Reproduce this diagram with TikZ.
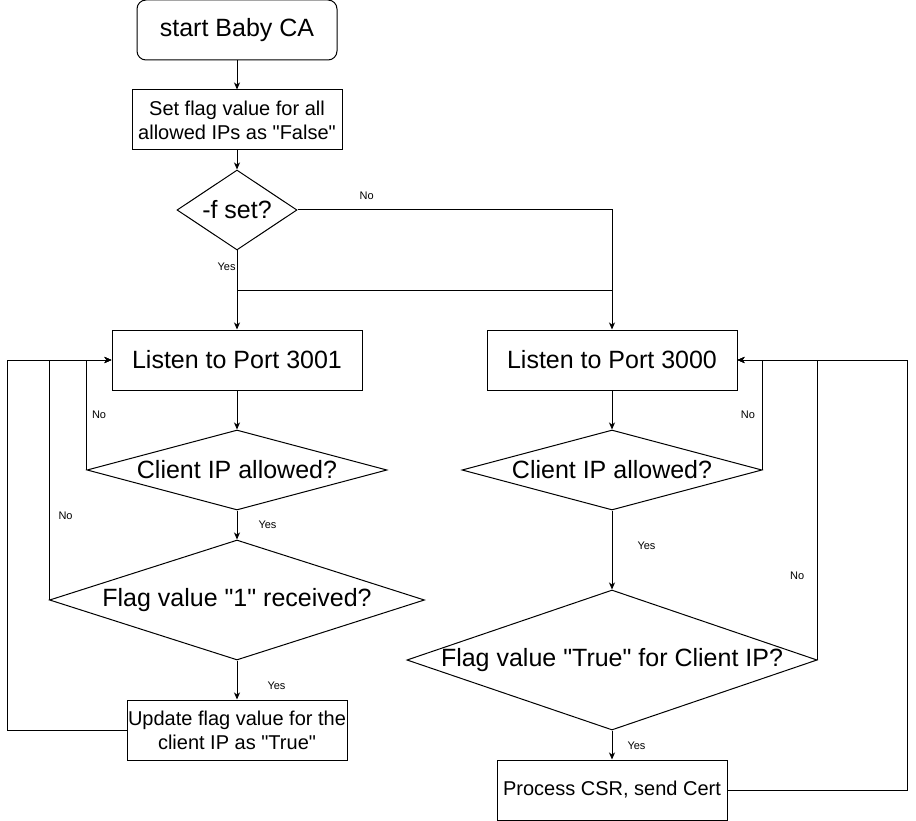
\documentclass[tikz,border=0pt]{standalone}
\usepackage{fontspec}
\setmainfont{Liberation Sans}[Ligatures=TeXOff]
\usetikzlibrary{positioning, shapes.geometric, arrows.meta}

\begin{document}
\begin{tikzpicture}[
        x=1pt, y=-1pt, line width=1pt,
        box/.style={draw, rectangle, inner sep=0pt, minimum height=60pt, align=center, font=\fontsize{20}{24}\selectfont},
        bigbox/.style={box, font=\fontsize{25}{30}\selectfont},
        decision/.style={draw, diamond, inner sep=0pt, font=\fontsize{25}{30}\selectfont},
        edge/.style={draw, -{Stealth[length=7pt, width=6pt, inset=2pt]}},
        line/.style={draw},
        lbl/.style={font=\fontsize{11}{13}\selectfont, inner sep=0pt}
    ]
        \useasboundingbox (0,0) rectangle (916,821);

        % Start
        \node[bigbox, rounded corners=9pt, minimum width=200pt] (start) at (237,30) {start Baby CA};
        \node[box, minimum width=210pt] (init) at (237,120) {Set flag value for all\\allowed IPs as "False"};
        \node[decision, minimum width=120pt, minimum height=80pt, aspect=1.5] (fset) at (237,210) {-f set?};

        % Port 3001
        \node[bigbox, minimum width=250pt] (l1) at (237,360) {Listen to Port 3001};
        \node[decision, minimum width=300pt, minimum height=80pt, aspect=3.75] (ip1) at (237,470) {Client IP allowed?};
        \node[decision, minimum width=375pt, minimum height=120pt, aspect=3.125] (fl1) at (237,600) {Flag value "1" received?};
        \node[box, minimum width=220pt] (up1) at (237,730) {Update flag value for the\\client IP as "True"};

        % Port 3000
        \node[bigbox, minimum width=250pt] (l0) at (612,360) {Listen to Port 3000};
        \node[decision, minimum width=300pt, minimum height=80pt, aspect=3.75] (ip0) at (612,470) {Client IP allowed?};
        \node[decision, minimum width=410pt, minimum height=140pt, aspect=2.93] (fl0) at (612,660) {Flag value "True" for Client IP?};
        \node[box, minimum width=230pt] (csr) at (612,790) {Process CSR, send Cert};

        % Helper points
        \coordinate (jn) at (0,290);
        \coordinate (lx) at (7,0);
        \coordinate (rx) at (907,0);

        % Edges
        \draw[edge] (start) -- (init);
        \draw[edge] (init) -- (fset);
        \draw[edge] (fset.south) -- node[lbl, pos=0.2, left=1pt] {Yes} (l1.north);
        \draw[edge] (fset.east) -| node[lbl, pos=0.11, above=10pt] {No} (l0.north);
        \draw[line] (fset.south |- jn) -- (l0.north |- jn);

        \draw[edge] (l1) -- (ip1);
        \draw[edge] (ip1) -- node[lbl, right=21pt] {Yes} (fl1);
        \draw[edge] (fl1) -- node[lbl, pos=0.65, right=30pt] {Yes} (up1);
        \draw[edge] (ip1.west) |- node[lbl, pos=0.25, right=5pt] {No} (l1.west);
        \draw[edge] (fl1.west) |- node[lbl, pos=0.175, right=9pt] {No} (l1.west);
        \draw[edge] (up1.west) -| (lx |- l1.west) -- (l1.west);

        \draw[edge] (l0) -- (ip0);
        \draw[edge] (ip0) -- node[lbl, pos=0.45, right=25pt] {Yes} (fl0);
        \draw[edge] (fl0) -- node[lbl, pos=0.53, right=15pt] {Yes} (csr);
        \draw[edge] (ip0.east) |- node[lbl, pos=0.25, left=7pt] {No} (l0.east);
        \draw[edge] (fl0.east) |- node[lbl, pos=0.14, left=13pt] {No} (l0.east);
        \draw[edge] (csr.east) -| (rx |- l0.east) -- (l0.east);
    \end{tikzpicture}
\end{document}
